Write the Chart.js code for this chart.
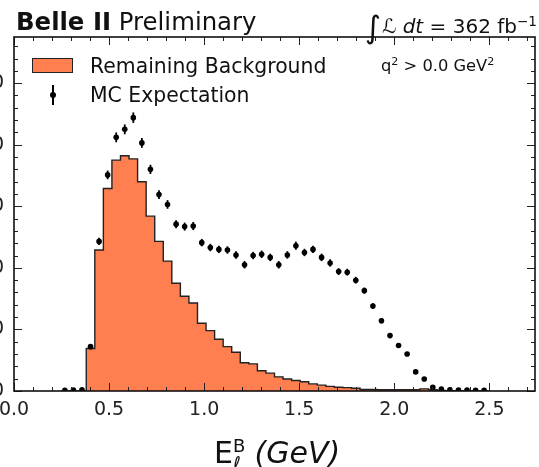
<!DOCTYPE html>
<html>
<head>
<meta charset="utf-8">
<script src="https://cdn.jsdelivr.net/npm/chart.js@4.4.1/dist/chart.umd.min.js"></script>
<style>
    html, body { margin: 0; padding: 0; background: #fff; }
    body {
        width: 539px; height: 467px; overflow: hidden; position: relative;
        font-family: "DejaVu Sans", sans-serif; color: #111;
    }
    #chart { position: absolute; left: -60px; top: 0; }
    .txt { position: absolute; white-space: nowrap; line-height: 1; }
    #title { left: 16px; top: 10px; font-size: 24.4px; }
    #lumi { right: 2px; top: 12px; font-size: 20px; }
    #lumi .int { font-size: 1.55em; vertical-align: -0.16em; margin-right: 1px; }
    #lumi sup, #cut sup { font-size: 0.68em; vertical-align: 0.5em; line-height: 0; }
    #cut { left: 381px; top: 58px; font-size: 16.3px; }
    .legtxt { font-size: 20.4px; left: 90px; }
    #leg1 { top: 56px; }
    #leg2 { top: 85px; }
    #legbox {
        position: absolute; left: 32px; top: 58px; width: 41px; height: 15px;
        background: #ff7f50; border: 1.3px solid #222; box-sizing: border-box;
    }
    #legbar { position: absolute; left: 52px; top: 85px; width: 2px; height: 20px; background: #000; }
    #legdot { position: absolute; left: 50px; top: 92px; width: 6px; height: 6px; border-radius: 50%; background: #000; }
    #xtitle { left: 214px; top: 433px; font-size: 30px; }
    #xtitle .ss { position: relative; display: inline-block; width: 15px; height: 30px; margin-right: -3px; }
    #xtitle .sp { position: absolute; left: 0; top: 4px; font-size: 18px; line-height: 1; }
    #xtitle .sb { position: absolute; left: 0; top: 21px; font-size: 19px; line-height: 1; font-style: italic; }
</style>
</head>
<body>
<canvas id="chart" width="599" height="467"></canvas>

<div class="txt" id="title"><b>Belle II</b> Preliminary</div>
<div class="txt" id="lumi"><span class="int">∫</span><i>ℒ dt</i> = 362 fb<sup>−1</sup></div>
<div class="txt" id="cut">q<sup>2</sup> &gt; 0.0 GeV<sup>2</sup></div>

<div id="legbox"></div>
<div class="txt legtxt" id="leg1">Remaining Background</div>
<div id="legbar"></div>
<div id="legdot"></div>
<div class="txt legtxt" id="leg2">MC Expectation</div>

<div class="txt" id="xtitle">E<span class="ss"><span class="sp">B</span><span class="sb">ℓ</span></span> <i>(GeV)</i></div>

<script>
    // --- Données ---

    const binWidth = 0.045;

    const binCenters = [
        0.2675, 0.3125, 0.3575, 0.4025, 0.4475, 0.4925, 0.5375, 0.5825, 0.6275, 0.6725,
        0.7175, 0.7625, 0.8075, 0.8525, 0.8975, 0.9425, 0.9875, 1.0325, 1.0775, 1.1225,
        1.1675, 1.2125, 1.2575, 1.3025, 1.3475, 1.3925, 1.4375, 1.4825, 1.5275, 1.5725,
        1.6175, 1.6625, 1.7075, 1.7525, 1.7975, 1.8425, 1.8875, 1.9325, 1.9775, 2.0225,
        2.0675, 2.1125, 2.1575, 2.2025, 2.2475, 2.2925, 2.3375, 2.3825, 2.4275, 2.4725
    ];

    const bkgCounts = [
        0, 0, 0, 69, 229, 329, 375, 382, 377, 340,
        284, 243, 211, 175, 154, 143, 110, 98, 84, 72,
        63, 46, 44, 33, 29, 23, 19.5, 17, 15, 11.5,
        9.5, 7.5, 6, 5.5, 4.5, 2.5, 2.5, 2, 2, 2,
        2, 2, 3.5, 2, 1, 0.5, 0.5, 0, 0, 0
    ];

    const mcCounts = [
        1, 1.5, 2, 72, 243, 351, 412, 425, 444, 403,
        360, 319, 303, 271, 267, 268, 241, 233, 230, 229,
        221, 205, 220, 222, 217, 205, 221, 236, 225, 230,
        217, 208, 194, 193, 180, 163, 138, 114, 90, 74,
        60, 31, 19.5, 6, 3, 2, 1.5, 1.5, 1, 1
    ];

    const mcErrors = [
        0.8, 1, 1.2, 3.5, 6, 7, 8, 8, 8.5, 8,
        7.5, 7, 7, 6.5, 6.5, 6.5, 6, 6, 6, 6,
        6, 6, 6, 6, 6, 6, 6, 6.5, 6, 6,
        6, 6, 5.5, 5.5, 5.5, 5, 4.5, 4, 3.5, 3,
        3, 2, 1.5, 1, 0.8, 0.6, 0.5, 0.5, 0.4, 0.4
    ];

    const xTickValues = [0, 0.5, 1.0, 1.5, 2.0, 2.5];
    const xTickLabels = ['0.0', '0.5', '1.0', '1.5', '2.0', '2.5'];
    const yTickValues = [0, 100, 200, 300, 400, 500];
    const yTickLabels = ['0', '100', '200', '300', '400', '500'];

    const X_MAX = 2.74, Y_MAX = 575;
    const X_MINOR = 0.1, Y_MINOR = 20;

    // --- Histogramme : contour en escalier ---

    const histPoints = [{ x: binCenters[0] - binWidth / 2, y: 0 }];
    binCenters.forEach((c, i) => histPoints.push({ x: c - binWidth / 2, y: bkgCounts[i] }));
    const lastEdge = binCenters[binCenters.length - 1] + binWidth / 2;
    histPoints.push({ x: lastEdge, y: bkgCounts[bkgCounts.length - 1] });
    histPoints.push({ x: lastEdge, y: 0 });

    const mcPoints = binCenters.map((c, i) => ({ x: c, y: mcCounts[i] }));

    // --- Plugins ---

    const errorBars = {
        id: 'errorBars',
        afterDatasetsDraw(chart) {
            const { ctx, scales: { x, y } } = chart;
            ctx.save();
            ctx.strokeStyle = '#000';
            ctx.lineWidth = 1.8;
            mcPoints.forEach((p, i) => {
                const px = x.getPixelForValue(p.x);
                ctx.beginPath();
                ctx.moveTo(px, y.getPixelForValue(p.y - mcErrors[i]));
                ctx.lineTo(px, y.getPixelForValue(p.y + mcErrors[i]));
                ctx.stroke();
            });
            ctx.restore();
        }
    };

    // Cadre et graduations intérieures (style matplotlib / mplhep)
    const frameTicks = {
        id: 'frameTicks',
        afterDatasetsDraw(chart) {
            const { ctx, chartArea: a, scales: { x, y } } = chart;
            ctx.save();
            ctx.strokeStyle = '#222';
            ctx.lineWidth = 1;
            ctx.beginPath();
            for (let i = 0; i * X_MINOR <= X_MAX + 1e-9; i++) {
                const px = Math.round(x.getPixelForValue(i * X_MINOR)) + 0.5;
                const len = i % 5 === 0 ? 8 : 4;
                ctx.moveTo(px, a.bottom); ctx.lineTo(px, a.bottom - len);
                ctx.moveTo(px, a.top); ctx.lineTo(px, a.top + len);
            }
            for (let i = 0; i * Y_MINOR <= Y_MAX + 1e-9; i++) {
                const py = Math.round(y.getPixelForValue(i * Y_MINOR)) + 0.5;
                const len = i % 5 === 0 ? 8 : 4;
                ctx.moveTo(a.left, py); ctx.lineTo(a.left + len, py);
                ctx.moveTo(a.right, py); ctx.lineTo(a.right - len, py);
            }
            ctx.stroke();
            ctx.lineWidth = 1.6;
            ctx.strokeStyle = '#111';
            ctx.strokeRect(a.left, a.top, a.right - a.left, a.bottom - a.top);
            ctx.restore();
        }
    };

    const tickFont = { family: 'DejaVu Sans', size: 19 };

    new Chart(document.getElementById('chart'), {
        type: 'scatter',
        data: {
            datasets: [
                {
                    type: 'line',
                    label: 'Remaining Background',
                    data: histPoints,
                    stepped: 'before',
                    fill: 'origin',
                    backgroundColor: '#ff7f50',
                    borderColor: '#222',
                    borderWidth: 1.4,
                    pointRadius: 0,
                    order: 2
                },
                {
                    label: 'MC Expectation',
                    data: mcPoints,
                    backgroundColor: '#000',
                    borderColor: '#000',
                    pointRadius: 2.8,
                    pointBorderWidth: 0,
                    order: 1
                }
            ]
        },
        options: {
            responsive: false,
            animation: false,
            layout: { padding: { top: 37, right: 2, left: 0, bottom: 0 } },
            plugins: {
                legend: { display: false },
                tooltip: { enabled: false }
            },
            scales: {
                x: {
                    type: 'linear',
                    min: 0,
                    max: X_MAX,
                    grid: { display: false, drawTicks: false },
                    border: { display: false },
                    afterBuildTicks: (scale) => { scale.ticks = xTickValues.map(v => ({ value: v })); },
                    afterFit: (scale) => { scale.height = 76; },
                    ticks: {
                        font: tickFont,
                        color: '#222',
                        padding: 8,
                        maxRotation: 0,
                        callback: (v) => xTickLabels[xTickValues.indexOf(v)]
                    }
                },
                y: {
                    type: 'linear',
                    min: 0,
                    max: Y_MAX,
                    grid: { display: false, drawTicks: false },
                    border: { display: false },
                    afterBuildTicks: (scale) => { scale.ticks = yTickValues.map(v => ({ value: v })); },
                    afterFit: (scale) => { scale.width = 74; },
                    ticks: {
                        font: tickFont,
                        color: '#222',
                        padding: 10,
                        callback: (v) => yTickLabels[yTickValues.indexOf(v)]
                    }
                }
            }
        },
        plugins: [errorBars, frameTicks]
    });
</script>
</body>
</html>
